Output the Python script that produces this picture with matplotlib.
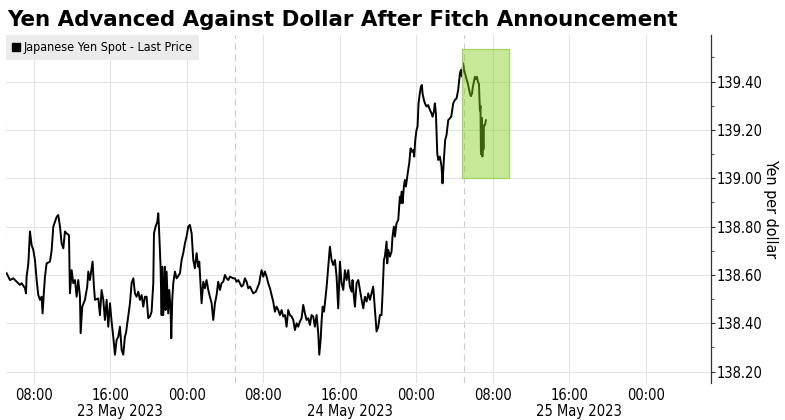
import matplotlib
matplotlib.use("Agg")
import matplotlib.pyplot as plt
from matplotlib.patches import Rectangle
from matplotlib.lines import Line2D
from matplotlib.transforms import blended_transform_factory

plt.rcParams['font.family'] = ['DejaVu Sans']
plt.rcParams['font.stretch'] = 'condensed'

# hours since 23 May 2023 00:00 and USD/JPY spot
hours = [5.14, 5.49, 5.84, 6.19, 6.53, 6.71, 7.06, 7.16, 7.23, 7.41, 7.58, 7.75, 7.93, 8.10, 8.28,
         8.45, 8.63, 8.80, 8.90, 9.04, 9.15, 9.32, 9.67, 9.85, 10.02, 10.37, 10.54, 10.72, 10.89,
         11.07, 11.24, 11.41, 11.66, 11.76, 11.94, 12.11, 12.29, 12.46, 12.63, 12.81, 12.88, 13.05,
         13.33, 13.57, 13.68, 13.85, 14.13, 14.27, 14.38, 14.73, 14.90, 15.07, 15.25, 15.42, 15.60,
         15.77, 15.95, 16.12, 16.29, 16.47, 16.64, 16.82, 16.99, 17.17, 17.34, 17.51, 17.62, 17.86,
         18.04, 18.21, 18.39, 18.56, 18.73, 18.91, 19.08, 19.26, 19.43, 19.61, 19.78, 19.95, 20.13,
         20.30, 20.48, 20.55, 20.72, 20.90, 21.00, 21.10, 21.24, 21.35, 21.42, 21.52, 21.70, 21.77,
         21.87, 22.04, 22.15, 22.29, 22.36, 22.46, 22.57, 22.74, 22.92, 23.27, 23.44, 23.61, 23.79,
         23.96, 24.14, 24.31, 24.49, 24.66, 24.83, 25.01, 25.18, 25.29, 25.53, 25.71, 25.88, 26.05,
         26.23, 26.40, 26.58, 26.75, 26.93, 27.10, 27.27, 27.45, 27.62, 27.80, 27.97, 28.15, 28.32,
         28.50, 28.84, 29.02, 29.19, 29.37, 29.54, 29.71, 29.89, 30.06, 30.24, 30.41, 30.59, 30.76,
         30.93, 31.21, 31.35, 31.56, 31.70, 31.80, 31.98, 32.15, 32.33, 32.50, 32.68, 32.85, 33.02,
         33.20, 33.37, 33.55, 33.72, 33.90, 34.07, 34.25, 34.42, 34.59, 34.77, 34.94, 35.12, 35.29,
         35.47, 35.64, 35.81, 35.99, 36.16, 36.34, 36.51, 36.69, 36.86, 37.03, 37.21, 37.38, 37.56,
         37.73, 37.84, 37.98, 38.08, 38.19, 38.33, 38.43, 38.61, 38.78, 38.95, 39.13, 39.30, 39.48,
         39.65, 39.82, 40.00, 40.17, 40.35, 40.52, 40.70, 40.87, 41.04, 41.22, 41.32, 41.46, 41.57,
         41.74, 41.92, 42.09, 42.27, 42.44, 42.61, 42.79, 42.96, 43.14, 43.31, 43.48, 43.66, 43.83,
         44.01, 44.18, 44.35, 44.46, 44.60, 44.70, 44.88, 44.95, 45.05, 45.23, 45.40, 45.50, 45.64,
         45.75, 45.92, 46.10, 46.27, 46.34, 46.45, 46.55, 46.69, 46.79, 46.90, 47.04, 47.14, 47.25,
         47.39, 47.53, 47.67, 47.77, 47.88, 48.01, 48.12, 48.22, 48.36, 48.47, 48.57, 48.64, 48.78,
         48.89, 49.06, 49.23, 49.41, 49.58, 49.69, 49.83, 49.93, 50.04, 50.18, 50.28, 50.45, 50.63,
         50.73, 50.87, 51.01, 51.15, 51.33, 51.50, 51.64, 51.85, 52.02, 52.20, 52.37, 52.55, 52.65,
         52.76, 52.89, 52.97, 53.18, 53.39, 53.60, 53.70, 53.81, 53.91, 54.12, 54.23, 54.33, 54.43,
         54.54, 54.64, 54.70, 54.75, 54.85, 54.90, 54.96, 55.01, 55.06, 55.17, 55.27]
price = [138.607, 138.579, 138.586, 138.572, 138.559, 138.566, 138.545, 138.524, 138.593, 138.648,
         138.780, 138.724, 138.703, 138.662, 138.579, 138.517, 138.497, 138.510, 138.441, 138.531,
         138.593, 138.648, 138.655, 138.703, 138.800, 138.840, 138.848, 138.800, 138.731, 138.710,
         138.780, 138.772, 138.765, 138.524, 138.620, 138.566, 138.579, 138.510, 138.579, 138.510,
         138.359, 138.469, 138.497, 138.552, 138.614, 138.579, 138.655, 138.552, 138.497, 138.503,
         138.434, 138.538, 138.497, 138.414, 138.497, 138.386, 138.483, 138.407, 138.345, 138.270,
         138.331, 138.345, 138.386, 138.290, 138.270, 138.345, 138.359, 138.428, 138.483, 138.566,
         138.586, 138.524, 138.510, 138.531, 138.497, 138.517, 138.469, 138.510, 138.510, 138.421,
         138.428, 138.448, 138.566, 138.772, 138.800, 138.820, 138.855, 138.772, 138.634, 138.434,
         138.634, 138.434, 138.634, 138.455, 138.614, 138.441, 138.538, 138.455, 138.338, 138.497,
         138.566, 138.614, 138.586, 138.607, 138.662, 138.690, 138.731, 138.759, 138.800, 138.807,
         138.772, 138.662, 138.628, 138.690, 138.634, 138.655, 138.483, 138.572, 138.545, 138.579,
         138.538, 138.510, 138.483, 138.414, 138.483, 138.517, 138.572, 138.538, 138.566, 138.572,
         138.600, 138.586, 138.579, 138.593, 138.586, 138.586, 138.572, 138.579, 138.566, 138.552,
         138.559, 138.586, 138.572, 138.545, 138.552, 138.538, 138.524, 138.531, 138.545, 138.566,
         138.600, 138.620, 138.593, 138.614, 138.593, 138.566, 138.545, 138.517, 138.490, 138.448,
         138.469, 138.455, 138.434, 138.455, 138.428, 138.434, 138.386, 138.455, 138.434, 138.428,
         138.414, 138.372, 138.400, 138.386, 138.407, 138.421, 138.476, 138.441, 138.414, 138.421,
         138.393, 138.434, 138.428, 138.386, 138.434, 138.359, 138.270, 138.331, 138.407, 138.469,
         138.448, 138.483, 138.552, 138.634, 138.717, 138.662, 138.641, 138.662, 138.593, 138.462,
         138.655, 138.566, 138.538, 138.620, 138.579, 138.620, 138.552, 138.531, 138.579, 138.510,
         138.469, 138.566, 138.579, 138.538, 138.497, 138.462, 138.510, 138.490, 138.524, 138.497,
         138.524, 138.552, 138.455, 138.366, 138.386, 138.434, 138.434, 138.524, 138.662, 138.676,
         138.738, 138.648, 138.704, 138.676, 138.697, 138.759, 138.800, 138.759, 138.814, 138.828,
         138.924, 138.897, 138.945, 138.897, 138.966, 138.993, 138.966, 139.007, 139.035, 139.062,
         139.124, 139.110, 139.117, 139.090, 139.159, 139.200, 139.214, 139.310, 139.352, 139.379,
         139.386, 139.352, 139.324, 139.310, 139.297, 139.303, 139.283, 139.269, 139.255, 139.276,
         139.310, 139.269, 139.104, 139.076, 139.090, 139.048, 138.979, 139.076, 139.159, 139.179,
         139.241, 139.248, 139.255, 139.310, 139.324, 139.331, 139.366, 139.434, 139.448, 139.421,
         139.476, 139.450, 139.420, 139.390, 139.350, 139.340, 139.350, 139.380, 139.420, 139.410,
         139.420, 139.400, 139.390, 139.280, 139.300, 139.100, 139.250, 139.090, 139.200, 139.120,
         139.220, 139.220, 139.240]

tick_hours = [8, 16, 24, 32, 40, 48, 56, 64, 72]
tick_labels = ['08:00', '16:00', '00:00'] * 3
day_breaks = [5, 29, 53]
day_labels = ['23 May 2023', '24 May 2023', '25 May 2023']
y_ticks = [138.2, 138.4, 138.6, 138.8, 139.0, 139.2, 139.4]
box_hours = (52.76, 57.67)
box_price = (139.0, 139.535)

fig = plt.figure(figsize=(7.85, 4.2), dpi=100)
ax = fig.add_axes([0.0076, 0.0881, 0.898, 0.8286])

ax.plot(hours, price, color='black', lw=1.4, zorder=3,
        label='Japanese Yen Spot - Last Price')

# highlight box drawn over the line
ax.add_patch(Rectangle((box_hours[0], box_price[0]), box_hours[1] - box_hours[0],
                       box_price[1] - box_price[0], facecolor='#82ce21', alpha=0.46,
                       edgecolor='none', zorder=4))
ax.add_patch(Rectangle((box_hours[0], box_price[0]), box_hours[1] - box_hours[0],
                       box_price[1] - box_price[0], fill=False, edgecolor='#a4d460',
                       lw=0.9, zorder=4))

ax.set_xlim(5.07, 78.8)
ax.set_ylim(138.153, 139.593)

for d in day_breaks:
    ax.axvline(d, color='#cccccc', lw=0.8, ls=(0, (6, 4)), zorder=1)

ax.set_xticks(tick_hours)
ax.set_xticklabels(tick_labels, fontsize=10.5)
ax.tick_params(axis='x', length=0, pad=3.5)
ax.grid(True, color='#e3e3e3', lw=0.8, zorder=0)

trans = blended_transform_factory(ax.transData, ax.transAxes)
for d, lab in zip(day_breaks, day_labels):
    ax.text(d + 12, -0.081, lab, transform=trans, ha='center', va='center', fontsize=10.5)

ax.yaxis.tick_right()
ax.yaxis.set_label_position('right')
ax.set_yticks(y_ticks)
ax.set_yticklabels(['%.2f' % v for v in y_ticks], fontsize=10.5)
ax.set_yticks([138.3, 138.5, 138.7, 138.9, 139.1, 139.3, 139.5], minor=True)
ax.tick_params(axis='y', which='major', length=3, width=0.8, pad=1, color='#333333')
ax.tick_params(axis='y', which='minor', length=2, width=0.8, color='#555555')
ax.set_ylabel('Yen per dollar', fontsize=11.5, rotation=270, labelpad=11)

for s in ['left', 'top', 'bottom']:
    ax.spines[s].set_visible(False)
ax.spines['right'].set_color('#333333')
ax.spines['right'].set_linewidth(0.9)

handle = Line2D([], [], marker='s', color='black', ls='none', markersize=6)
leg = ax.legend([handle], ['Japanese Yen Spot - Last Price'], loc='upper left',
                bbox_to_anchor=(0.0, 1.0), borderaxespad=0, frameon=True, fontsize=9,
                handlelength=0.6, handletextpad=0.3, borderpad=0.5, fancybox=False)
leg.get_frame().set_facecolor('#ebebeb')
leg.get_frame().set_edgecolor('none')
leg.get_frame().set_alpha(1)
leg.set_zorder(5)

fig.text(0.009, 0.975, 'Yen Advanced Against Dollar After Fitch Announcement',
         fontsize=15.4, fontweight='bold', ha='left', va='top', fontstretch='normal')

fig.savefig('out.png', dpi=100)
